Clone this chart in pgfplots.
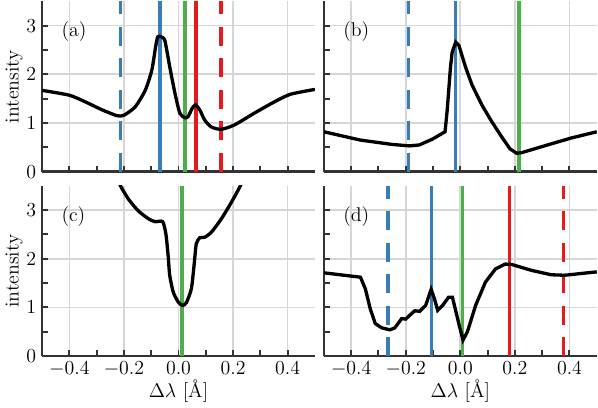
\documentclass[border=0pt]{standalone}
\usepackage{pgfplots}
\pgfplotsset{compat=1.18}
\usepgfplotslibrary{groupplots}
\definecolor{lineblue}{HTML}{377EB8}
\definecolor{linegreen}{HTML}{4DAF4A}
\definecolor{linered}{HTML}{E41A1C}
\definecolor{axisgray}{HTML}{333333}
\definecolor{gridgray}{HTML}{D6D6D6}

\pgfplotsset{
  panel/.style={
    scale only axis, width=164.7pt, height=102.9pt,
    font=\fontsize{12}{14.4}\selectfont,
    xmin=-0.5, xmax=0.5, ymin=0, ymax=3.5,
    xtick={-0.4,-0.2,0,0.2,0.4}, ytick={0,1,2,3},
    minor x tick num=1, minor y tick num=1,
    axis lines=left,
    axis line style={-, line width=1.5pt, draw=axisgray},
    tick align=inside,
    major tick length=3.6pt, minor tick length=3.6pt,
    tick style={line width=1.2pt, draw=axisgray},
    grid=major, grid style={line width=1pt, draw=gridgray},
    xticklabel style={/pgf/number format/.cd, fixed, fixed zerofill, precision=1},
    ylabel style={yshift=-4.5pt},
    xlabel style={yshift=5pt},
  },
  vsolid/.style={line width=2.2pt, no marks},
  vdash/.style={line width=2.2pt, no marks, dash pattern=on 11.5pt off 7.5pt},
  curve/.style={black, line width=2pt, no marks, smooth, tension=0.4},
}
\tikzset{tag/.style={anchor=north west, inner sep=0pt}}

\begin{document}
\begin{tikzpicture}
\begin{groupplot}[
  group style={group size=2 by 2, horizontal sep=5.4pt, vertical sep=8.4pt,
    xticklabels at=edge bottom, yticklabels at=edge left},
  panel,
]
% (a)
\nextgroupplot[ylabel={intensity}]
\addplot[vdash, lineblue] coordinates {(-0.213,0) (-0.213,3.5)};
\addplot[vsolid, lineblue] coordinates {(-0.068,0) (-0.068,3.5)};
\addplot[vsolid, linegreen] coordinates {(0.023,0) (0.023,3.5)};
\addplot[vsolid, linered] coordinates {(0.063,0) (0.063,3.5)};
\addplot[vdash, linered] coordinates {(0.156,0) (0.156,3.5)};
\addplot[curve] coordinates {
  (-0.5,1.67) (-0.4,1.57) (-0.34,1.43) (-0.28,1.27) (-0.225,1.15) (-0.2,1.16)
  (-0.159,1.33) (-0.122,1.67) (-0.098,2.08) (-0.084,2.56) (-0.076,2.77)
  (-0.064,2.77) (-0.05,2.69) (-0.032,2.15) (-0.013,1.61) (0.005,1.2)
  (0.023,1.11) (0.035,1.13) (0.05,1.3) (0.062,1.37) (0.078,1.27) (0.096,1.06)
  (0.12,0.92) (0.156,0.87) (0.205,0.96) (0.277,1.2) (0.35,1.43) (0.41,1.59)
  (0.5,1.69)
};
\node[tag] at (rel axis cs:0.07,0.88) {(a)};
% (b)
\nextgroupplot
\addplot[vdash, lineblue] coordinates {(-0.19,0) (-0.19,3.5)};
\addplot[vsolid, lineblue] coordinates {(-0.018,0) (-0.018,3.5)};
\addplot[vsolid, linegreen] coordinates {(0.216,0) (0.216,3.5)};
\addplot[black, line width=2pt, no marks] coordinates {
  (-0.5,0.82) (-0.367,0.65) (-0.25,0.56) (-0.186,0.53) (-0.15,0.55) (-0.102,0.67)
  (-0.056,0.82) (-0.048,1.27) (-0.036,2.15) (-0.03,2.45) (-0.017,2.66)
  (-0.005,2.59) (0.019,2.15) (0.043,1.78) (0.079,1.37) (0.115,1.03)
  (0.151,0.72) (0.182,0.47) (0.206,0.38) (0.224,0.39) (0.32,0.55)
  (0.405,0.69) (0.5,0.82)
};
\node[tag] at (rel axis cs:0.07,0.88) {(b)};
% (c)
\nextgroupplot[ylabel={intensity}, xlabel={$\Delta\lambda$ [\AA]}]
\addplot[vsolid, linegreen] coordinates {(0.012,0) (0.012,3.5)};
\addplot[curve] coordinates {
  (-0.225,3.7) (-0.213,3.5) (-0.183,3.22) (-0.147,2.98) (-0.11,2.82)
  (-0.086,2.76) (-0.058,2.76) (-0.046,2.5) (-0.038,2.06) (-0.032,1.65)
  (-0.019,1.31) (-0.001,1.11) (0.015,1.04) (0.029,1.1) (0.047,1.38)
  (0.057,1.86) (0.065,2.3) (0.078,2.43) (0.096,2.44) (0.12,2.54)
  (0.156,2.81) (0.193,3.15) (0.227,3.5) (0.24,3.7)
};
\node[tag] at (rel axis cs:0.07,0.88) {(c)};
% (d)
\nextgroupplot[xlabel={$\Delta\lambda$ [\AA]}]
\addplot[vdash, lineblue] coordinates {(-0.264,0) (-0.264,3.5)};
\addplot[vsolid, lineblue] coordinates {(-0.106,0) (-0.106,3.5)};
\addplot[vsolid, linegreen] coordinates {(0.008,0) (0.008,3.5)};
\addplot[vsolid, linered] coordinates {(0.18,0) (0.18,3.5)};
\addplot[vdash, linered] coordinates {(0.378,0) (0.378,3.5)};
\addplot[black, line width=2pt, no marks] coordinates {
  (-0.5,1.71) (-0.366,1.62) (-0.348,1.38) (-0.33,0.97) (-0.312,0.67)
  (-0.288,0.58) (-0.258,0.54) (-0.24,0.58) (-0.215,0.77) (-0.2,0.76)
  (-0.185,0.84) (-0.167,0.93) (-0.149,0.92) (-0.127,1.04) (-0.107,1.37)
  (-0.095,1.18) (-0.083,0.94) (-0.065,1.04) (-0.043,1.21) (-0.029,1.21)
  (-0.016,0.91) (-0.004,0.63) (0.01,0.33) (0.026,0.5) (0.056,1.04)
  (0.092,1.52) (0.129,1.79) (0.165,1.89) (0.189,1.88) (0.261,1.76)
  (0.333,1.67) (0.382,1.66) (0.5,1.73)
};
\node[tag] at (rel axis cs:0.07,0.88) {(d)};
\end{groupplot}
\end{tikzpicture}
\end{document}
